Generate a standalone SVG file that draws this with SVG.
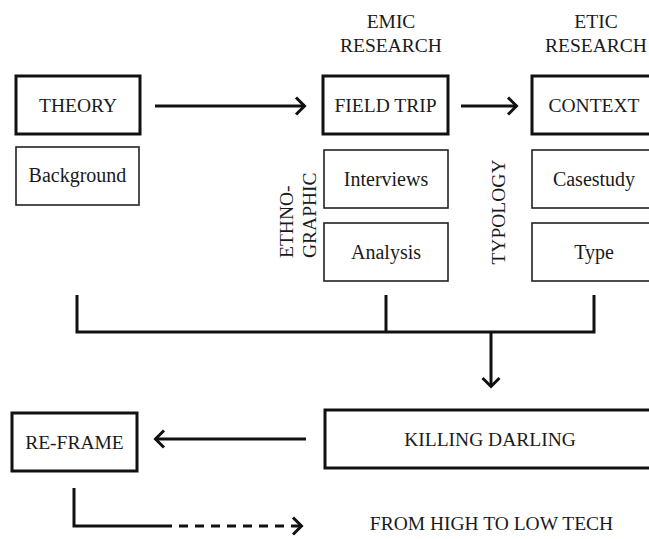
<svg xmlns="http://www.w3.org/2000/svg" width="649" height="539" viewBox="0 0 649 539" font-family="'Liberation Serif', 'Times New Roman', serif">
<style>
  text { font-family: 'Liberation Serif', 'Times New Roman', serif; fill: #1a1a1a; font-size: 20px; }
  .c { text-anchor: middle; }
  .caps { font-size: 19.5px; }
  .thick { fill: #fff; stroke: #111; stroke-width: 3; }
  .thin { fill: #fff; stroke: #222; stroke-width: 1.6; }
  .line { fill: none; stroke: #111; stroke-width: 3; stroke-linejoin: miter; }
  .dash { stroke-dasharray: 9 7; }
</style>
<defs>
  <marker id="chev" viewBox="0 0 14 20" markerWidth="14" markerHeight="20" refX="11" refY="10" orient="auto" markerUnits="userSpaceOnUse">
    <polyline points="2,1.5 10.5,10 2,18.5" fill="none" stroke="#111" stroke-width="3" stroke-dasharray="none"/>
  </marker>
</defs>
<rect width="649" height="539" fill="#fff"/>

<g id="label-emic">
  <text class="c caps" x="391" y="28">EMIC</text>
  <text class="c caps" x="391" y="52">RESEARCH</text>
</g>
<g id="label-etic">
  <text class="c caps" x="596" y="28">ETIC</text>
  <text class="c caps" x="596" y="52">RESEARCH</text>
</g>

<g id="theory">
  <rect class="thick" x="16" y="76" width="124" height="58"/>
  <text class="c caps" x="78" y="112">THEORY</text>
</g>
<g id="background">
  <rect class="thin" x="16" y="147" width="123" height="58"/>
  <text class="c" x="77.5" y="182">Background</text>
</g>

<g id="field-trip">
  <rect class="thick" x="323" y="76" width="125" height="58"/>
  <text class="c caps" x="385.5" y="112">FIELD TRIP</text>
</g>
<g id="interviews">
  <rect class="thin" x="324" y="150" width="124" height="58"/>
  <text class="c" x="386" y="186">Interviews</text>
</g>
<g id="analysis">
  <rect class="thin" x="324" y="223" width="124" height="58"/>
  <text class="c" x="386" y="259">Analysis</text>
</g>
<g id="label-ethnographic">
  <text class="caps" transform="translate(293,258) rotate(-90)">ETHNO-</text>
  <text class="caps" transform="translate(316,258) rotate(-90)">GRAPHIC</text>
</g>

<g id="context">
  <rect class="thick" x="532" y="76" width="125" height="58"/>
  <text class="c caps" x="594" y="112">CONTEXT</text>
</g>
<g id="casestudy">
  <rect class="thin" x="532" y="150" width="125" height="58"/>
  <text class="c" x="594" y="186">Casestudy</text>
</g>
<g id="type">
  <rect class="thin" x="532" y="223" width="125" height="58"/>
  <text class="c" x="594" y="259">Type</text>
</g>
<g id="label-typology">
  <text class="c caps" transform="translate(505,212) rotate(-90)">TYPOLOGY</text>
</g>

<g id="killing-darling">
  <rect class="thick" x="325" y="410" width="330" height="58"/>
  <text class="c caps" x="490" y="446">KILLING DARLING</text>
</g>
<g id="re-frame">
  <rect class="thick" x="12" y="413" width="125" height="58"/>
  <text class="c caps" x="74.5" y="449">RE-FRAME</text>
</g>
<g id="from-high-to-low-tech">
  <text class="c caps" x="491.5" y="530">FROM HIGH TO LOW TECH</text>
</g>

<g id="connectors">
  <path class="line" d="M155,106 H305" marker-end="url(#chev)"/>
  <path class="line" d="M461,106 H517" marker-end="url(#chev)"/>
  <path class="line" d="M77,295 V332 H594 V295"/>
  <path class="line" d="M386,295 V332"/>
  <path class="line" d="M491,332 V387" marker-end="url(#chev)"/>
  <path class="line" d="M306,439 H155" marker-end="url(#chev)"/>
  <path class="line" d="M74,488 V526 H163"/>
  <path class="line dash" d="M163,526 H302" marker-end="url(#chev)"/>
</g>
</svg>
